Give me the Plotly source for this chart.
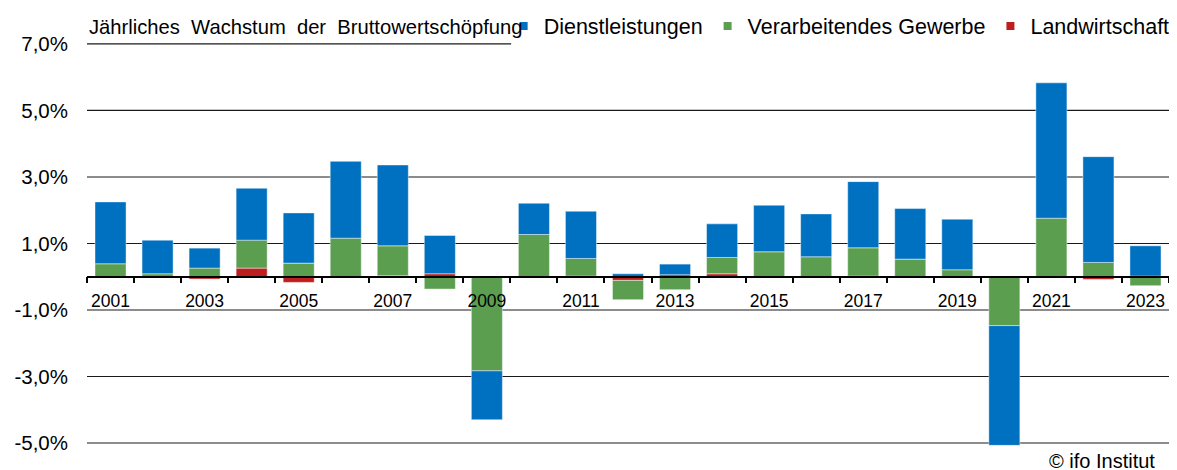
import plotly.graph_objects as go

years = list(range(2001, 2024))
landwirtschaft = [-0.03, 0.00, -0.07, 0.26, -0.17, -0.03, 0.03, 0.09, 0.00, -0.02, 0.02, -0.11,
                  0.06, 0.09, -0.03, -0.02, 0.02, -0.02, 0.00, 0.00, 0.00, -0.08, 0.02]
gewerbe = [0.39, 0.09, 0.26, 0.84, 0.41, 1.16, 0.90, -0.37, -2.83, 1.27, 0.53, -0.58,
           -0.39, 0.49, 0.75, 0.60, 0.85, 0.53, 0.21, -1.47, 1.76, 0.43, -0.27]
dienst = [1.86, 1.01, 0.60, 1.56, 1.51, 2.31, 2.43, 1.15, -1.47, 0.94, 1.42, 0.09,
          0.32, 1.01, 1.40, 1.29, 1.99, 1.52, 1.52, -3.60, 4.07, 3.18, 0.91]

label_years = [y for y in years if y % 2 == 1]
label_text = [str(y) for y in label_years]
y_ticks = [-5, -3, -1, 1, 3, 5, 7]
y_text = ["-5,0%", "-3,0%", "-1,0%", "1,0%", "3,0%", "5,0%", "7,0%"]

C_BLUE = "#0070C0"
C_GREEN = "#5C9E50"
C_RED = "#BE1E1E"
FONT = "Liberation Sans, Arial, sans-serif"

YMIN, YMAX = -5.3, 7.6

fig = go.Figure()
edge = dict(color="rgba(255,255,255,0.55)", width=0.8)
fig.add_trace(go.Bar(x=years, y=landwirtschaft, marker=dict(color=C_RED, line=edge),
                     showlegend=False, name="Landwirtschaft"))
fig.add_trace(go.Bar(x=years, y=gewerbe, marker=dict(color=C_GREEN, line=edge),
                     showlegend=False, name="Verarbeitendes Gewerbe"))
fig.add_trace(go.Bar(x=years, y=dienst, marker=dict(color=C_BLUE, line=edge),
                     showlegend=False, name="Dienstleistungen"))

for name, col in [("Dienstleistungen", C_BLUE), ("Verarbeitendes Gewerbe", C_GREEN),
                  ("Landwirtschaft", C_RED)]:
    fig.add_trace(go.Scatter(x=[None], y=[None], mode="markers", name=name,
                             marker=dict(symbol="square", size=8, color=col)))

shapes = []
for v in y_ticks:
    shapes.append(dict(type="line", xref="paper", yref="y", x0=0,
                       x1=(0.392 if v == 7 else 1), y0=v, y1=v,
                       line=dict(color="#1a1a1a", width=1.2), layer="below"))

fig.update_layout(
    width=1177, height=470,
    margin=dict(l=79, r=15.5, t=16, b=25, autoexpand=False),
    paper_bgcolor="white", plot_bgcolor="white",
    barmode="relative", bargap=0.34,
    font=dict(family=FONT, color="black"),
    shapes=shapes,
    showlegend=True,
    legend=dict(orientation="h", xref="container", yref="container",
                x=0.4211, y=0.9617, xanchor="left", yanchor="middle",
                font=dict(size=21.5, family=FONT, color="black"),
                bgcolor="rgba(255,255,255,0)", itemwidth=30, tracegroupgap=0),
    xaxis=dict(range=[2000.5, 2023.5], anchor="free", automargin=False,
               position=(0 - YMIN) / (YMAX - YMIN),
               showgrid=False, zeroline=False,
               showline=True, linecolor="black", linewidth=1.5,
               tickmode="array", tickvals=label_years, ticktext=label_text,
               ticks="outside", ticklen=0, tickcolor="black",
               ticklabelstandoff=9,
               tickfont=dict(size=17.5, family=FONT, color="black"),
               minor=dict(tick0=2000.5, dtick=1, ticks="outside", ticklen=6,
                          tickwidth=1.5, tickcolor="black", showgrid=False)),
    yaxis=dict(range=[YMIN, YMAX], showgrid=False, zeroline=False, showline=False,
               automargin=False,
               tickmode="array", tickvals=y_ticks, ticktext=y_text,
               ticks="", ticklabelstandoff=18,
               tickfont=dict(size=20.5, family=FONT, color="black")),
    annotations=[
        dict(text="Jährliches\u00a0 Wachstum\u00a0 der\u00a0 Bruttowertschöpfung",
             xref="paper", yref="paper", x=0.0, y=0.993, xanchor="left", yanchor="middle",
             showarrow=False, font=dict(size=20.2, family=FONT, color="black")),
        dict(text="© ifo Institut", xref="paper", yref="paper", x=0.9885, y=-0.018,
             xanchor="right", yanchor="middle", showarrow=False,
             font=dict(size=20, family=FONT, color="black")),
    ],
)

fig.write_html("out.html")
